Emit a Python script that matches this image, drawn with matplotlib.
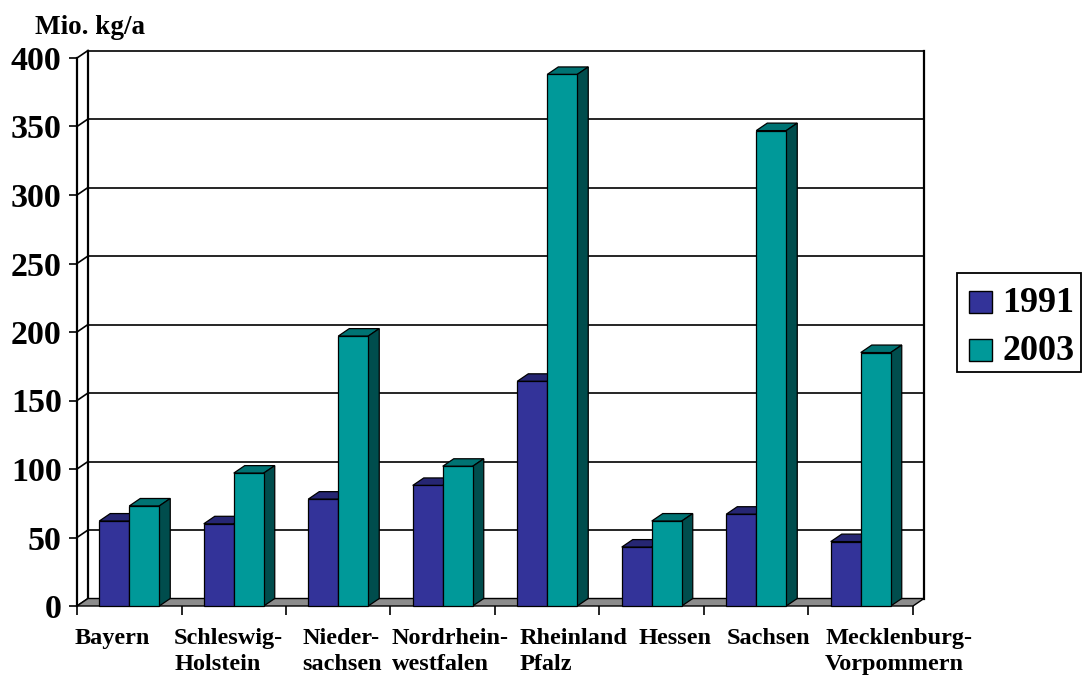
import matplotlib
matplotlib.use("Agg")
import matplotlib.pyplot as plt
from matplotlib.patches import Polygon, Rectangle
from matplotlib.transforms import blended_transform_factory

# --- data -------------------------------------------------------------
categories = ["Bayern", "Schleswig-\nHolstein", "Nieder-\nsachsen",
              "Nordrhein-\nwestfalen", "Rheinland\nPfalz", "Hessen",
              "Sachsen", "Mecklenburg-\nVorpommern"]
values_1991 = [62, 60, 78, 88, 164, 43, 67, 47]
values_2003 = [73, 97, 197, 102, 388, 62, 347, 185]
series_names = ["1991", "2003"]
y_ticks = [0, 50, 100, 150, 200, 250, 300, 350, 400]
y_unit = "Mio. kg/a"

# --- styling ----------------------------------------------------------
W, H = 1083, 677
FONT = "Liberation Serif"
front_cols = ["#333399", "#009999"]
top_cols = ["#262673", "#007373"]
side_cols = ["#1a1a4d", "#004d4d"]
floor_col = "#8c8c8c"

fig = plt.figure(figsize=(W / 100, H / 100), dpi=100)
fig.patch.set_facecolor("white")

# front plane of the plot in pixels
px_left, px_right, px_bottom, px_top = 77, 913, 606, 58
ax = fig.add_axes([px_left / W, (H - px_bottom) / H,
                   (px_right - px_left) / W, (px_bottom - px_top) / H])
n = len(categories)
ax.set_xlim(0, n)
ax.set_ylim(0, 400)
ax.set_facecolor("none")

# depth offset of the pseudo-3D box (pixels -> data units)
dx = 11 * n / (px_right - px_left)
dy = 7.5 * 400 / (px_bottom - px_top)

# back wall gridlines and side wall diagonals
for v in y_ticks:
    ax.plot([dx, n + dx], [v + dy, v + dy], color="black", lw=1.2,
            zorder=1, clip_on=False, solid_capstyle="butt")
    ax.plot([0, dx], [v, v + dy], color="black", lw=1.2, zorder=1,
            clip_on=False)
# wall edges
ax.plot([dx, dx], [dy, 400 + dy], color="black", lw=1.6, zorder=1, clip_on=False)
ax.plot([n + dx, n + dx], [dy, 400 + dy], color="black", lw=1.6, zorder=1, clip_on=False)
ax.plot([0, 0], [0, 400], color="black", lw=1.6, zorder=1, clip_on=False)

# floor
ax.add_patch(Polygon([(0, 0), (n, 0), (n + dx, dy), (dx, dy)], closed=True,
                     facecolor=floor_col, edgecolor="black", lw=1.0,
                     zorder=2, clip_on=False))

# bars
bar_w = 30 / ((px_right - px_left) / n)
centers = [i + 0.5 for i in range(n)]
for s, vals in enumerate([values_1991, values_2003]):
    xs = [c - bar_w + s * bar_w for c in centers]
    ax.bar(xs, vals, width=bar_w, align="edge", color=front_cols[s],
           edgecolor="black", linewidth=0.9, zorder=4 + s * 2,
           clip_on=False, label=series_names[s])
    for x0, v in zip(xs, vals):
        x1 = x0 + bar_w
        ax.add_patch(Polygon([(x0, v), (x1, v), (x1 + dx, v + dy), (x0 + dx, v + dy)],
                             closed=True, facecolor=top_cols[s], edgecolor="black",
                             lw=0.9, zorder=3 + s * 2, clip_on=False))
        ax.add_patch(Polygon([(x1, 0), (x1, v), (x1 + dx, v + dy), (x1 + dx, dy)],
                             closed=True, facecolor=side_cols[s], edgecolor="black",
                             lw=0.9, zorder=3 + s * 2, clip_on=False))

# axes: ticks only, spines hidden (box drawn above)
for sp in ax.spines.values():
    sp.set_visible(False)
ax.set_yticks(y_ticks)
ax.set_yticklabels([str(v) for v in y_ticks], fontfamily=FONT,
                   fontweight="bold", fontsize=24.5)
ax.tick_params(axis="y", length=6, width=1.2, pad=5, color="black")
ax.set_xticks(range(n + 1))
ax.set_xticklabels([])
ax.tick_params(axis="x", length=6.5, width=1.2, direction="out", color="black")

# category labels (left-aligned blocks)
label_left = [-0.02, 0.93, 2.16, 3.01, 4.23, 5.37, 6.22, 7.16]
tr = blended_transform_factory(ax.transData, fig.transFigure)
for x, lab in zip(label_left, categories):
    ax.text(x, (H - 628) / H, lab, transform=tr, ha="left", va="top",
            fontfamily=FONT, fontweight="bold", fontsize=17.5,
            linespacing=1.3, clip_on=False)

# unit label
fig.text(35 / W, (H - 34) / H, y_unit, ha="left", va="baseline",
         fontfamily=FONT, fontweight="bold", fontsize=19.5)

# legend box
lx0, ly0, lx1, ly1 = 957, 273, 1081, 372
fig.patches.append(Rectangle((lx0 / W, (H - ly1) / H), (lx1 - lx0) / W,
                             (ly1 - ly0) / H, transform=fig.transFigure,
                             facecolor="white", edgecolor="black", lw=1.3))
for k, (name, col) in enumerate(zip(series_names, front_cols)):
    top = 291 + k * 48
    fig.patches.append(Rectangle((969 / W, (H - top - 22) / H), 23 / W, 22 / H,
                                 transform=fig.transFigure, facecolor=col,
                                 edgecolor="black", lw=1.0))
    fig.text(1002 / W, (H - top - 21) / H, name, ha="left", va="baseline",
             fontfamily=FONT, fontweight="bold", fontsize=26)

fig.savefig("out.png", dpi=100, facecolor="white")
